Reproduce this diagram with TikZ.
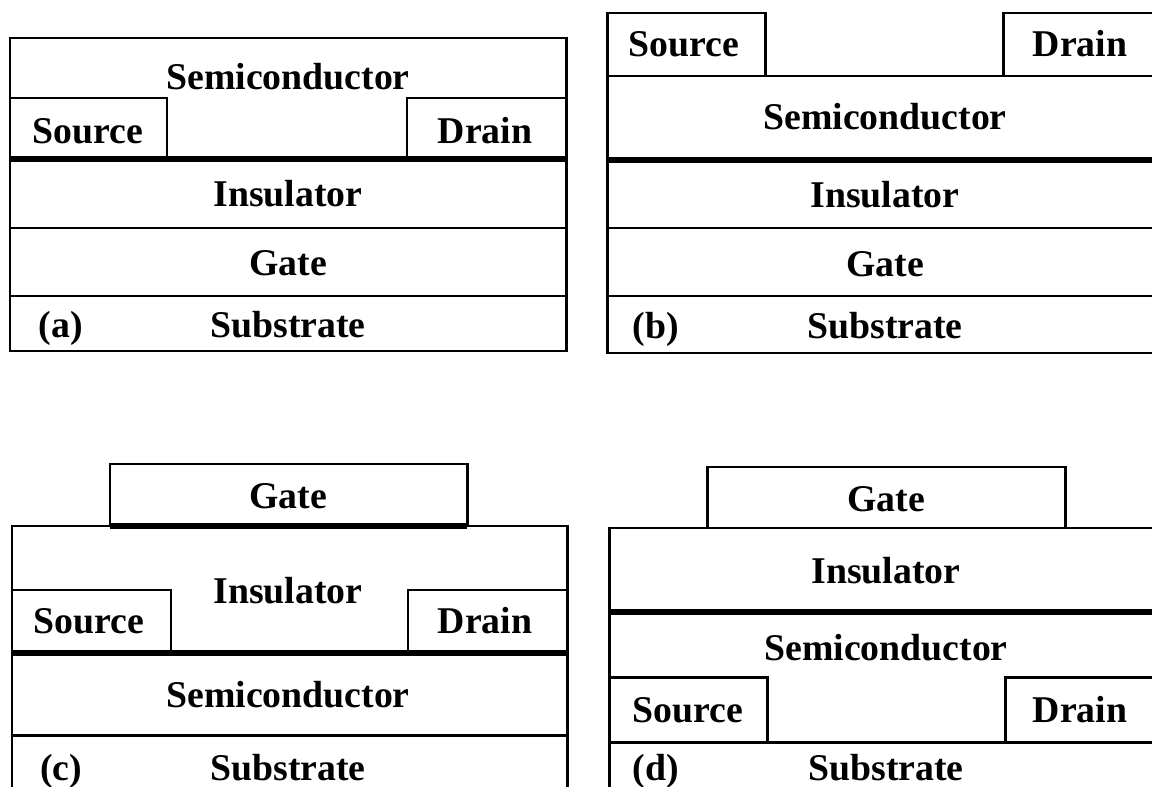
\documentclass[tikz,border=0pt]{standalone}
\usepackage{fontspec}
\setmainfont{Liberation Serif}

\tikzset{
  part/.style={draw, line width=1.7pt},
  junction/.style={line width=3pt},
  txt/.style={font=\fontsize{21.5}{24}\selectfont\bfseries, inner sep=0pt, anchor=base}
}

\begin{document}
\begin{tikzpicture}[x=0.02cm, y=-0.02cm]
    \useasboundingbox (0,0) rectangle (1152,787);

    % (a) bottom gate, bottom contact
    \draw[part] (10,38) rectangle (566,351);
    \draw[part] (10,98) rectangle (167,159);
    \draw[part] (407,98) rectangle (566,159);
    \foreach \y in {228,296}
        \draw[part] (10,\y) -- (566,\y);
    \draw[junction] (10,159) -- (566,159);

    \node[txt] (semiA) at (288,90) {Semiconductor};
    \node[txt] (srcA) at (88,144) {Source};
    \node[txt] (drnA) at (485,144) {Drain};
    \node[txt] (insA) at (288,207) {Insulator};
    \node[txt] (gateA) at (288,275) {Gate};
    \node[txt] (subA) at (288,337) {Substrate};
    \node[txt] (tagA) at (61,337) {(a)};

    % (b) bottom gate, top contact
    \draw[part] (607,76) rectangle (1163,353);
    \draw[part] (607,13) rectangle (765,76);
    \draw[part] (1003,13) rectangle (1163,76);
    \foreach \y in {228,296}
        \draw[part] (607,\y) -- (1163,\y);
    \draw[junction] (607,160) -- (1163,160);

    \node[txt] (srcB) at (684,57) {Source};
    \node[txt] (drnB) at (1080,57) {Drain};
    \node[txt] (semiB) at (885,130) {Semiconductor};
    \node[txt] (insB) at (885,208) {Insulator};
    \node[txt] (gateB) at (885,276) {Gate};
    \node[txt] (subB) at (885,338) {Substrate};
    \node[txt] (tagB) at (656,338) {(b)};

    % (c) top gate, bottom contact
    \draw[part] (12,526) rectangle (567,795);
    \draw[part] (110,464) rectangle (467,526);
    \draw[junction] (110,526) -- (467,526);
    \draw[part] (12,590) rectangle (171,653);
    \draw[part] (408,590) rectangle (567,653);
    \draw[junction] (12,653) -- (567,653);
    \draw[part] (12,735) -- (567,735);

    \node[txt] (gateC) at (288,508) {Gate};
    \node[txt] (insC) at (288,603) {Insulator};
    \node[txt] (srcC) at (89,633) {Source};
    \node[txt] (drnC) at (485,633) {Drain};
    \node[txt] (semiC) at (288,707) {Semiconductor};
    \node[txt] (subC) at (288,780) {Substrate};
    \node[txt] (tagC) at (61,780) {(c)};

    % (d) top gate, top contact
    \draw[part] (609,528) rectangle (1165,797);
    \draw[part] (707,467) rectangle (1065,528);
    \draw[junction] (609,612) -- (1165,612);
    \draw[part] (609,677) rectangle (767,742);
    \draw[part] (1005,677) rectangle (1165,742);
    \draw[part] (609,742) -- (1165,742);

    \node[txt] (gateD) at (886,511) {Gate};
    \node[txt] (insD) at (886,583) {Insulator};
    \node[txt] (semiD) at (886,660) {Semiconductor};
    \node[txt] (srcD) at (688,722) {Source};
    \node[txt] (drnD) at (1080,722) {Drain};
    \node[txt] (subD) at (886,780) {Substrate};
    \node[txt] (tagD) at (656,780) {(d)};
\end{tikzpicture}
\end{document}
